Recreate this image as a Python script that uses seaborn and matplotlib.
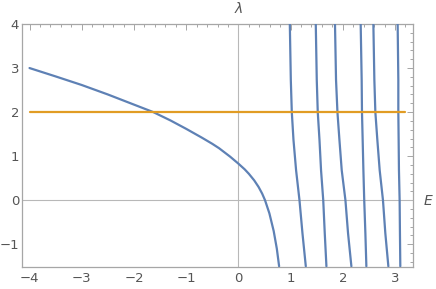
import matplotlib
matplotlib.use("Agg")
import matplotlib.pyplot as plt
import seaborn as sns
import numpy as np
import pandas as pd
from matplotlib.ticker import MultipleLocator

# Left curve (E, lambda)
left_E = [-4.0, -3.5, -3.0, -2.5, -2.0, -1.63, -1.3, -1.0, -0.7, -0.5, -0.37, -0.16,
          0.0, 0.121, 0.200, 0.303, 0.387, 0.455, 0.510, 0.594, 0.676, 0.736, 0.78]
left_lam = [3.0, 2.81, 2.615, 2.40, 2.17, 2.0, 1.81, 1.62, 1.42, 1.28, 1.18, 0.99,
            0.83, 0.70, 0.60, 0.45, 0.30, 0.15, 0.0, -0.30, -0.70, -1.10, -1.5]

# Near-vertical branches: E position at each lambda level
branch_lam = [4.0, 2.73, 2.0, 1.37, 0.68, 0.0, -0.75, -1.5]
branch1_E = [0.985, 1.004, 1.023, 1.055, 1.105, 1.170, 1.227, 1.291]
branch2_E = [1.482, 1.501, 1.520, 1.553, 1.583, 1.625, 1.654, 1.686]
branch3_E = [1.850, 1.870, 1.897, 1.935, 1.979, 2.050, 2.100, 2.164]
branch4_E = [2.342, 2.361, 2.367, 2.380, 2.394, 2.410, 2.432, 2.451]
branch5_E = [2.585, 2.604, 2.623, 2.661, 2.706, 2.769, 2.814, 2.872]
branch6_E = [3.050, 3.063, 3.063, 3.069, 3.075, 3.088, 3.094, 3.101]

# Horizontal line
hline_E = [-4.0, 3.2]
hline_lam = [2.0, 2.0]

x_ticks = [-4, -3, -2, -1, 0, 1, 2, 3]
y_ticks = [-1, 0, 1, 2, 3, 4]

BLUE = "#5E81B5"
ORANGE = "#E19C24"
GRAY = "#a6a6a6"
TXT = "#555555"

sns.set_style("white")
plt.rcParams['font.family'] = ['DejaVu Sans']

fig = plt.figure(figsize=(4.36, 2.89), dpi=100)
ax = fig.add_axes([22/436, 1-266.7/289, (413-22)/436, (266.7-24)/289])

ax.axhline(0, color="#b8b8b8", lw=0.8, zorder=1)
ax.axvline(0, color="#b8b8b8", lw=0.8, zorder=1)

lw = 1.6
sns.lineplot(x=left_E, y=left_lam, sort=False, estimator=None, color=BLUE, lw=lw, ax=ax, zorder=3)
for bE in [branch1_E, branch2_E, branch3_E, branch4_E, branch5_E, branch6_E]:
    sns.lineplot(x=bE, y=branch_lam, sort=False, estimator=None, color=BLUE, lw=lw, ax=ax, zorder=3)
sns.lineplot(x=hline_E, y=hline_lam, sort=False, estimator=None, color=ORANGE, lw=lw, ax=ax, zorder=4)

ax.set_xlim(-4.144, 3.344)
ax.set_ylim(-1.51, 4.0)
ax.set_xticks(x_ticks)
ax.set_yticks(y_ticks)
ax.set_xticklabels([str(t).replace('-', '\u2212') for t in x_ticks])
ax.set_yticklabels([str(t).replace('-', '\u2212') for t in y_ticks])
ax.xaxis.set_minor_locator(MultipleLocator(0.2))
ax.yaxis.set_minor_locator(MultipleLocator(0.2))

for s in ax.spines.values():
    s.set_visible(True)
    s.set_color(GRAY)
    s.set_linewidth(0.9)

ax.tick_params(which='both', direction='in', top=True, right=True, colors=GRAY,
               labelcolor=TXT, labelsize=9.5, width=0.7)
ax.tick_params(which='major', length=4)
ax.tick_params(which='minor', length=2)
ax.tick_params(axis='x', which='major', pad=4)
ax.tick_params(axis='y', which='major', pad=2)
ax.tick_params(axis='both', labeltop=False, labelright=False)

ax.set_xlabel("")
ax.set_ylabel("")
fig.text(238.3/436, 1-9/289, "λ", ha='center', va='center', color=TXT, fontsize=10, style='italic')
fig.text(428/436, 1-201/289, "E", ha='center', va='center', color=TXT, fontsize=10, style='italic')

fig.savefig("out.png", dpi=100)
